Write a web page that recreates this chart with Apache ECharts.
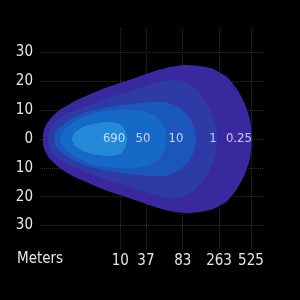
<!DOCTYPE html>
<html><head><meta charset="utf-8">
<script src="https://cdn.jsdelivr.net/npm/echarts@6/dist/echarts.min.js"></script>
<style>html,body{margin:0;padding:0;background:#000;}#c{width:300px;height:300px;}</style>
</head><body><div id="c"></div>
<script>
// x axis: relative position along the beam (0-100), tick labels in meters
const xTickPos = [36, 47.5, 64, 80.3, 94.6];
const xTickLabels = ['10', '37', '83', '263', '525'];
const yTicks = [-30, -20, -10, 0, 10, 20, 30];
const isoLabels = ['690', '50', '10', '1', '0.25'];
const isoLabelX = [33.2, 46.2, 61, 77.6, 89.2];
// upper half of each iso-lux contour [x, y]; mirrored for lower half
const contour025 = [[1.3,0],[1.7,3.0],[3.2,5.6],[5.6,7.8],[9.0,10.2],[15.7,13.2],[22.4,15.5],[29.1,17.7],[37.2,19.8],[44.8,21.8],[51.6,23.6],[58.3,25.0],[65.0,25.7],[71.7,25.3],[77.6,24.3],[83.9,21.5],[88.3,17.3],[91.9,12.1],[94.2,6.6],[95.1,0]];
const contour1 = [[3.6,0],[4.1,3.0],[6.6,6.0],[12.6,8.9],[20.2,11.3],[29.1,13.9],[38.1,16.0],[44.8,17.7],[51.6,19.4],[58.3,20.5],[64.1,20.1],[69.5,17.7],[74.0,13.5],[77.1,9.0],[78.9,4.5],[79.4,0]];
const contour10 = [[6.3,0],[7.3,2.8],[10.8,5.3],[15.7,7.7],[22.4,9.6],[31.4,11.1],[40.4,12.1],[49.3,12.8],[56.1,12.8],[61.9,11.1],[66.4,8.0],[69.1,4.2],[70.0,0]];
const contour50 = [[9.0,0],[10.2,2.6],[13.5,5.0],[18.8,7.4],[25.6,9.3],[33.6,10.1],[42.6,10.1],[49.3,9.0],[53.8,6.6],[56.1,3.5],[56.5,0]];
const contour690 = [[14.3,0],[15.8,2.4],[20.2,4.5],[25.6,5.5],[31.4,5.9],[35.9,5.2],[38.1,3.1],[39.0,0]];

const contours = [contour025, contour1, contour10, contour50, contour690];
const colors = ['#38299e', '#2e3aa6', '#1b57ba', '#1669c6', '#2389d8'];

function fullShape(upper) {
  const lower = upper.slice(1, -1).reverse().map(p => [p[0], -p[1]]);
  return upper.concat(lower);
}

const chart = echarts.init(document.getElementById('c'), null, {renderer: 'canvas'});
const labelFont = "'Liberation Sans Narrow','DejaVu Sans Condensed','Roboto',sans-serif";
chart.setOption({
  backgroundColor: '#000',
  animation: false,
  grid: {left: 40, right: 37, top: 28, bottom: 50},
  xAxis: {
    type: 'value', min: 0, max: 100,
    axisLine: {show: false},
    axisTick: {show: false, customValues: xTickPos},
    axisLabel: {
      customValues: xTickPos, margin: 4, color: '#e6e6e6', fontSize: 15, fontFamily: labelFont,
      formatter: v => xTickLabels[xTickPos.indexOf(v)]
    },
    splitLine: {show: true, lineStyle: {color: '#2e2e2e', type: 'dotted', width: 1}}
  },
  yAxis: {
    type: 'value', min: -38.5, max: 38.5,
    axisLine: {show: false},
    axisTick: {show: false, customValues: yTicks},
    axisLabel: {
      customValues: yTicks, margin: 7, color: '#e6e6e6', fontSize: 15, fontFamily: labelFont,
      formatter: v => String(Math.abs(v))
    },
    splitLine: {show: true, lineStyle: {color: '#2e2e2e', type: 'dotted', width: 1}}
  },
  graphic: [{
    type: 'text', left: 17, top: 252,
    style: {text: 'Meters', fill: '#e6e6e6', fontSize: 15, fontFamily: labelFont}
  }],
  series: [
    {
      type: 'custom',
      clip: false,
      data: contours.map((c, i) => [i, 0]),
      renderItem: function (params, api) {
        const idx = params.dataIndex;
        const pts = fullShape(contours[idx]).map(p => api.coord(p));
        return {type: 'polygon', shape: {points: pts, smooth: 0.2}, style: {fill: colors[idx]}};
      },
      z: 2
    },
    {
      type: 'scatter',
      symbolSize: 0,
      data: isoLabelX.map(x => [x, 0]),
      label: {
        show: true, position: 'inside', color: '#f0f0f0', fontSize: 13, fontFamily: labelFont,
        formatter: p => isoLabels[p.dataIndex]
      },
      z: 5
    }
  ]
});
</script></body></html>
